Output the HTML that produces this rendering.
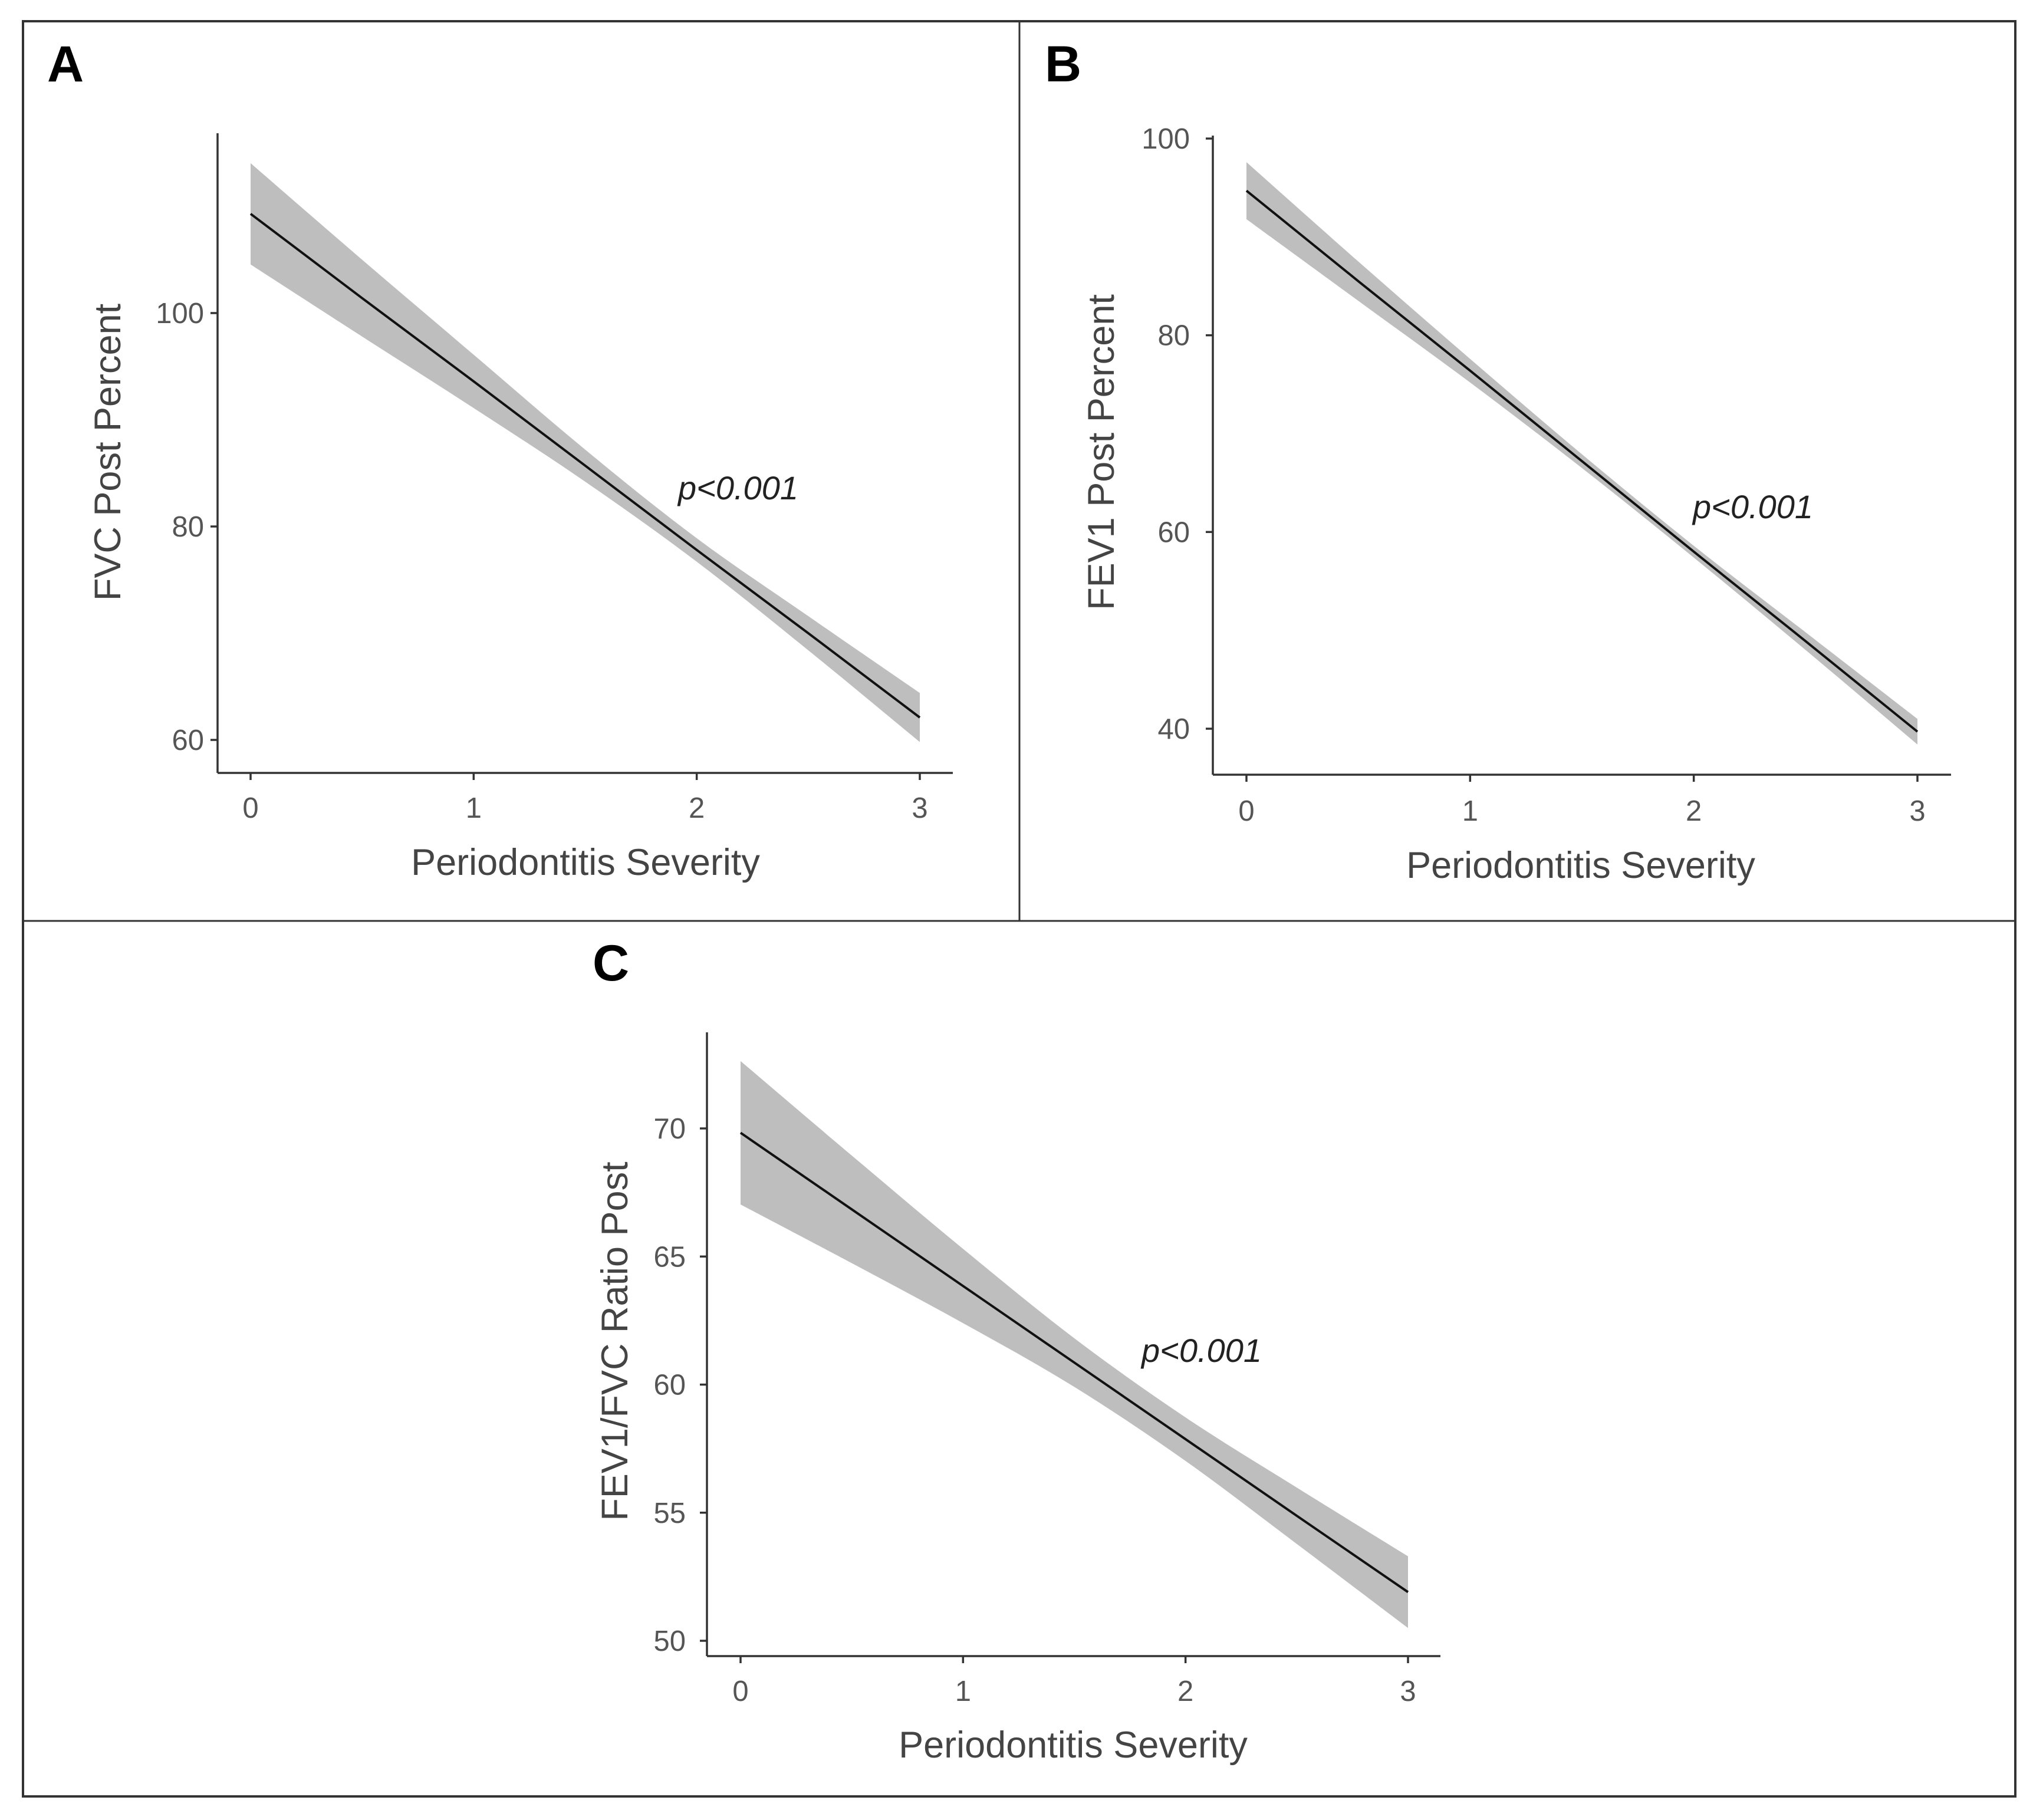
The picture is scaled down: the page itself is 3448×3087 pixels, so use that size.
<!DOCTYPE html>
<html><head><meta charset="utf-8"><style>
html,body{margin:0;padding:0;background:#fff;}
svg{display:block;font-family:"Liberation Sans",Arial,sans-serif;}
</style></head><body>
<svg id="fig" width="3448" height="3087" viewBox="0 0 3448 3087" xmlns="http://www.w3.org/2000/svg">
<rect x="0" y="0" width="3448" height="3087" fill="#fff"/>
<rect x="39" y="36" width="3379" height="3011" fill="none" stroke="#333" stroke-width="4"/>
<line x1="1729" y1="36" x2="1729" y2="1562" stroke="#333" stroke-width="3"/>
<line x1="39" y1="1562" x2="3418" y2="1562" stroke="#333" stroke-width="3"/>
<g id="panels"></g>
</svg>
<script>
const xCats = [0, 0.5, 1, 1.5, 2, 2.5, 3];
const xTicks = [0, 1, 2, 3];
const fitA = [109.3, 101.4, 93.6, 85.7, 77.8, 70.0, 62.1];
const upperA = [114.05, 105.0, 96.1, 87.2, 78.9, 71.6, 64.4];
const lowerA = [104.55, 97.8, 91.1, 84.2, 76.7, 68.4, 59.8];
const yTicksA = [60, 80, 100];
const fitB = [94.7, 85.5, 76.4, 67.2, 58.0, 48.9, 39.7];
const upperB = [97.6, 87.5, 77.6, 67.9, 58.6, 49.8, 41.0];
const lowerB = [91.8, 83.5, 75.2, 66.5, 57.4, 48.0, 38.4];
const yTicksB = [40, 60, 80, 100];
const fitC = [69.83, 66.84, 63.85, 60.86, 57.87, 54.88, 51.9];
const upperC = [72.63, 68.94, 65.30, 61.81, 58.72, 55.98, 53.3];
const lowerC = [67.03, 64.74, 62.40, 59.91, 57.02, 53.78, 50.5];
const yTicksC = [50, 55, 60, 65, 70];

const NS = 'http://www.w3.org/2000/svg';
const root = document.getElementById('panels');
function mk(tag, attrs, parent, text) {
  const e = document.createElementNS(NS, tag);
  for (const k in attrs) e.setAttribute(k, attrs[k]);
  if (text !== undefined) e.textContent = text;
  parent.appendChild(e);
  return e;
}
// smooth path through points (Catmull-Rom -> cubic Bezier)
function smooth(pts, start) {
  let d = (start ? 'M' : 'L') + pts[0][0] + ',' + pts[0][1];
  for (let i = 0; i < pts.length - 1; i++) {
    const p0 = pts[Math.max(i - 1, 0)], p1 = pts[i], p2 = pts[i + 1], p3 = pts[Math.min(i + 2, pts.length - 1)];
    const c1x = p1[0] + (p2[0] - p0[0]) / 6, c1y = p1[1] + (p2[1] - p0[1]) / 6;
    const c2x = p2[0] - (p3[0] - p1[0]) / 6, c2y = p2[1] - (p3[1] - p1[1]) / 6;
    d += 'C' + c1x + ',' + c1y + ' ' + c2x + ',' + c2y + ' ' + p2[0] + ',' + p2[1];
  }
  return d;
}
function panel(cfg) {
  const g = mk('g', {}, root);
  
  
  const sx = v => cfg.x0 + (cfg.x3 - cfg.x0) * v / 3;
  const sy = v => cfg.yA + (cfg.yB - cfg.yA) * (v - cfg.vA) / (cfg.vB - cfg.vA);
  const up = xCats.map((c, i) => [sx(c), sy(cfg.upper[i])]);
  const lo = xCats.map((c, i) => [sx(c), sy(cfg.lower[i])]).reverse();
  const d = smooth(up, true) + smooth(lo, false) + 'Z';
  const band = mk('path', {d: d, fill: '#bebebe', stroke: 'none'}, g);
  
  
  let ld = '';
  xCats.forEach((c, i) => { ld += (i ? 'L' : 'M') + sx(c) + ',' + sy(cfg.fit[i]); });
  const line = mk('path', {d: ld, fill: 'none', stroke: '#111', 'stroke-width': 4}, g);
  
  
  const ya = mk('line', {x1: cfg.ax, y1: cfg.axTop, x2: cfg.ax, y2: cfg.axBot, stroke: '#333', 'stroke-width': 3.5}, g);
  
  
  const xa = mk('line', {x1: cfg.ax, y1: cfg.axBot, x2: cfg.axRight, y2: cfg.axBot, stroke: '#333', 'stroke-width': 3.5}, g);
  
  
  xTicks.forEach(t => {
    const x = sx(t);
    mk('line', {x1: x, y1: cfg.axBot, x2: x, y2: cfg.axBot + 12, stroke: '#333', 'stroke-width': 3.5}, g);
    const tl = mk('text', {x: x, y: cfg.xLabY, 'text-anchor': 'middle', 'font-size': 49, fill: '#555'}, g, String(t));
    
    
  });
  cfg.yTicks.forEach(t => {
    const y = sy(t);
    mk('line', {x1: cfg.ax - 12, y1: y, x2: cfg.ax, y2: y, stroke: '#333', 'stroke-width': 3.5}, g);
    const tl = mk('text', {x: cfg.yLabR, y: y + 17, 'text-anchor': 'end', 'font-size': 49, fill: '#555'}, g, String(t));
    
    
  });
  const yt = mk('text', {x: 0, y: 0, 'text-anchor': 'middle', 'font-size': 63, fill: '#444',
    transform: 'translate(' + (cfg.yTitleX + 22) + ',' + cfg.yTitleY + ') rotate(-90)'}, g, cfg.yTitle);
  
  
  const xt = mk('text', {x: cfg.xTitleX, y: cfg.xTitleY, 'text-anchor': 'middle', 'font-size': 63, fill: '#444'}, g, 'Periodontitis Severity');
  
  
  const p = mk('text', {x: cfg.pX, y: cfg.pY, 'font-size': 56, 'font-style': 'italic', fill: '#222'}, g, 'p<0.001');
  
  
  const lab = mk('text', {x: cfg.labX, y: cfg.labY, 'font-size': 86, 'font-weight': 'bold', fill: '#000'}, g, cfg.id);
  
  
}
panel({id: 'A', x0: 425, x3: 1560, yA: 531, vA: 100, yB: 1255, vB: 60,
  ax: 369, axTop: 226, axBot: 1311, axRight: 1616, xLabY: 1387, yLabR: 346,
  fit: fitA, upper: upperA, lower: lowerA, yTicks: yTicksA, yTitle: 'FVC Post Percent',
  yTitleX: 182, yTitleY: 767, xTitleX: 993, xTitleY: 1484, pX: 1150, pY: 847, labX: 80, labY: 138});
panel({id: 'B', x0: 2114, x3: 3252, yA: 235, vA: 100, yB: 1236, vB: 40,
  ax: 2057, axTop: 230, axBot: 1314, axRight: 3309, xLabY: 1392, yLabR: 2018,
  fit: fitB, upper: upperB, lower: lowerB, yTicks: yTicksB, yTitle: 'FEV1 Post Percent',
  yTitleX: 1867, yTitleY: 767, xTitleX: 2681, xTitleY: 1489, pX: 2871, pY: 879, labX: 1772, labY: 138});
panel({id: 'C', x0: 1256, x3: 2388, yA: 1914, vA: 70, yB: 2783, vB: 50,
  ax: 1199, axTop: 1751, axBot: 2809, axRight: 2443, xLabY: 2885, yLabR: 1163,
  fit: fitC, upper: upperC, lower: lowerC, yTicks: yTicksC, yTitle: 'FEV1/FVC Ratio Post',
  yTitleX: 1042, yTitleY: 2275, xTitleX: 1820, xTitleY: 2981, pX: 1936, pY: 2310, labX: 1005, labY: 1663});
</script>
</body></html>
